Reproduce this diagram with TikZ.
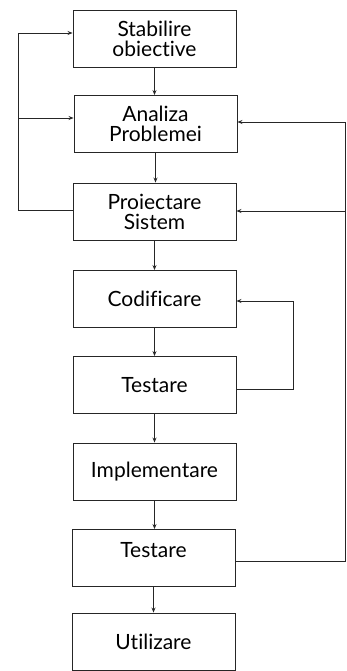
\documentclass[tikz,border=0pt]{standalone}
\usepackage{fontspec}
\setmainfont{Lato}[Ligatures=NoCommon]
\usetikzlibrary{arrows.meta}
\tikzset{
  etapa/.style={draw=black!85, line width=0.9pt, minimum width=163pt, minimum height=57pt,
    inner sep=0pt, align=center, font=\fontsize{21}{20}\selectfont},
  flux/.style={draw=black!85, line width=0.8pt, -{Stealth[length=5pt,width=4pt]}}
}

\begin{document}
\begin{tikzpicture}[x=1pt, y=-1pt]
        \useasboundingbox (0,0) rectangle (347,671);
        \node (e0) [etapa] at (154.5, 38.5) {Stabilire\\obiective};
        \node (e1) [etapa] at (155.5, 124) {Analiza\\Problemei};
        \node (e2) [etapa] at (154.5, 211.5) {Proiectare\\Sistem};
        \node (e3) [etapa] at (154.5, 299) {Codificare};
        \node (e4) [etapa] at (154.5, 385) {Testare};
        \node (e5) [etapa] at (154.5, 471.5) {Implementare};
        \node (e6) [etapa, text depth=16pt] at (153.5, 558) {Testare};
        \node (e7) [etapa] at (153.5, 641.5) {Utilizare};
        \coordinate (ls) at (18, 210.5);
        \coordinate (lm) at (18, 118);
        \coordinate (rs) at (345, 561);
        \coordinate (rm) at (345, 211);
        \coordinate (is) at (293, 389);

        \draw [flux] (e0.south) -- (e0.south |- e1.north);
        \draw [flux] (e1.south) -- (e1.south |- e2.north);
        \draw [flux] (e2.south) -- (e2.south |- e3.north);
        \draw [flux] (e3.south) -- (e3.south |- e4.north);
        \draw [flux] (e4.south) -- (e4.south |- e5.north);
        \draw [flux] (e5.south) -- (e5.south |- e6.north);
        \draw [flux] (e6.south) -- (e6.south |- e7.north);
        % bucla stanga
        \draw [flux] (e2.west |- ls) -- (ls) |- ([yshift=5.5pt]e0.west);
        \draw [flux] (lm) -- ([yshift=6pt]e1.west);
        % bucla dreapta
        \draw [flux] (e6.east |- rs) -- (rs) |- ([yshift=2pt]e1.east);
        \draw [flux] (rm) -- (e2.east |- rm);
        % bucla codificare - testare
        \draw [flux] (e4.east |- is) -- (is) |- ([yshift=-2pt]e3.east);
\end{tikzpicture}
\end{document}
